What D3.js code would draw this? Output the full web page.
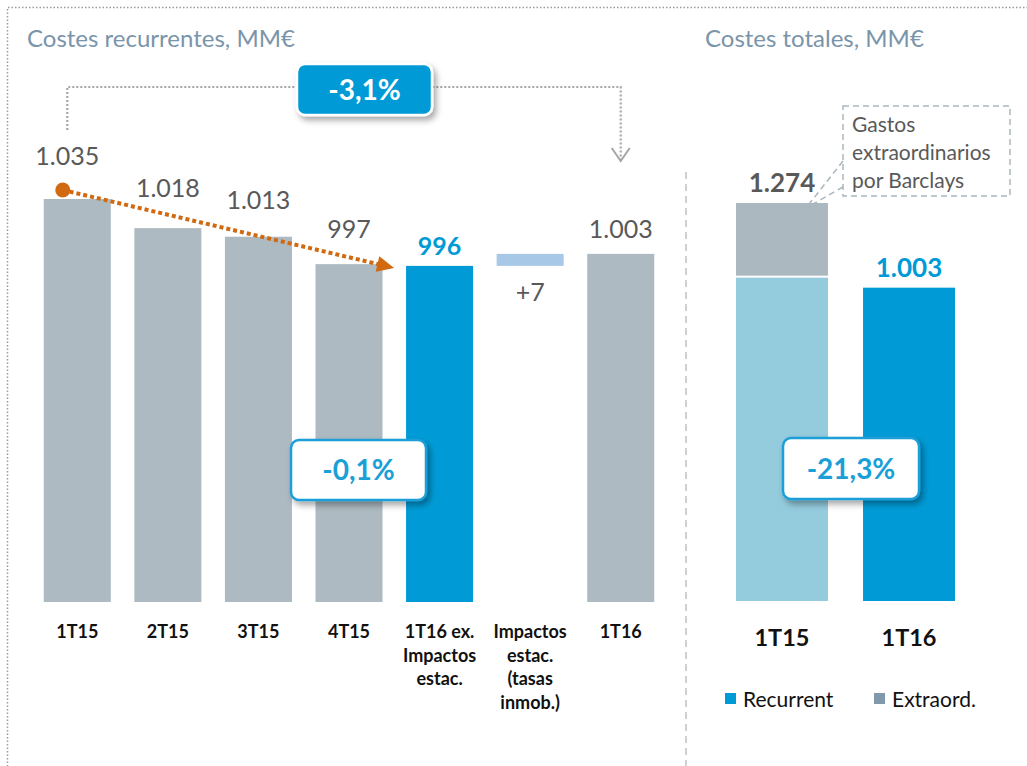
<!DOCTYPE html>
<html>
<head>
<meta charset="utf-8">
<script src="https://cdn.jsdelivr.net/npm/d3@7"></script>
<style>
  body { margin: 0; background: #fff; }
  text { font-family: Lato, "Open Sans", sans-serif; }
</style>
</head>
<body>
<div id="container"></div>
<script>
// left chart: recurrent costs per quarter
const quarters = ["1T15", "2T15", "3T15", "4T15", "1T16ex", "impact", "1T16"];
const quarterLabels = [["1T15"], ["2T15"], ["3T15"], ["4T15"],
  ["1T16 ex.", "Impactos", "estac."], ["Impactos", "estac.", "(tasas", "inmob.)"], ["1T16"]];
const barStart = [0, 0, 0, 0, 0, 996, 0];
const barEnd = [1035, 1018, 1013, 997, 996, 1003, 1003];
const barLabels = ["1.035", "1.018", "1.013", "997", "996", "+7", "1.003"];

// right chart: total costs
const totalCats = ["1T15", "1T16"];
const recurrent = [1035, 1003];
const extraord = [239, 0];
const totalLabels = ["1.274", "1.003"];
const legendItems = ["Recurrent", "Extraord."];

const width = 1027;
const height = 766;

const svg = d3.select("#container").append("svg")
    .attr("width", width)
    .attr("height", height);

const defs = svg.append("defs");
const shadow = defs.append("filter").attr("id", "shadow")
    .attr("x", "-20%").attr("y", "-20%").attr("width", "150%").attr("height", "160%");
shadow.append("feDropShadow")
    .attr("dx", 3).attr("dy", 4).attr("stdDeviation", 3)
    .attr("flood-color", "#000").attr("flood-opacity", 0.35);

// dotted outer frame and dashed separator
svg.append("path")
    .attr("d", "M7.5,770 V7.5 H1030")
    .attr("fill", "none").attr("stroke", "#9a9a9a")
    .attr("stroke-width", 1.5).attr("stroke-dasharray", "1.5,2");
svg.append("line")
    .attr("x1", 686).attr("x2", 686).attr("y1", 172).attr("y2", 766)
    .attr("stroke", "#d0d0d0").attr("stroke-width", 2).attr("stroke-dasharray", "7,5");

// titles
svg.append("text").attr("x", 27).attr("y", 47)
    .attr("font-size", 24).attr("fill", "#7a94aa").text("Costes recurrentes, MM€");
svg.append("text").attr("x", 705).attr("y", 47)
    .attr("font-size", 24).attr("fill", "#7a94aa").text("Costes totales, MM€");

// ---- left chart
const x = d3.scaleBand().domain(quarters).range([32, 666]).paddingInner(0.26).paddingOuter(0.13);
const y = d3.scaleLinear().domain([800, 1035]).range([602, 199]);

const barFill = ["#adbac1", "#adbac1", "#adbac1", "#adbac1", "#009bd6", "#a7c9e7", "#adbac1"];

svg.selectAll("rect.q")
  .data(quarters)
  .enter().append("rect")
    .attr("class", "q")
    .attr("x", d => x(d))
    .attr("width", x.bandwidth())
    .attr("y", (d, i) => y(barEnd[i]))
    .attr("height", (d, i) => (barStart[i] ? y(barStart[i]) : y(800)) - y(barEnd[i]))
    .attr("fill", (d, i) => barFill[i]);

const labelDy = [-34, -31, -28, -26, -11, 0, -16];
svg.selectAll("text.val")
  .data(quarters)
  .enter().append("text")
    .attr("class", "val")
    .attr("x", (d, i) => x(d) + x.bandwidth() / 2 - (i === 0 ? 10 : 0))
    .attr("y", (d, i) => i === 5 ? y(barStart[i]) + 35 : y(barEnd[i]) + labelDy[i])
    .attr("text-anchor", "middle")
    .attr("font-size", 25)
    .attr("font-weight", (d, i) => i === 4 ? "bold" : "normal")
    .attr("fill", (d, i) => i === 4 ? "#009bd6" : "#595959")
    .text((d, i) => barLabels[i]);

svg.selectAll("text.cat")
  .data(quarters)
  .enter().append("text")
    .attr("class", "cat")
    .attr("x", d => x(d) + x.bandwidth() / 2)
    .attr("y", 638)
    .attr("text-anchor", "middle")
    .attr("font-size", 18).attr("font-weight", "bold").attr("fill", "#111")
    .each(function(d, i) {
      d3.select(this).selectAll("tspan")
        .data(quarterLabels[i])
        .enter().append("tspan")
        .attr("x", x(d) + x.bandwidth() / 2)
        .attr("dy", (t, j) => j === 0 ? 0 : 23.5)
        .text(t => t);
    });

// gray dotted connector 1T15 -> 1T16
const cx0 = x("1T15") + x.bandwidth() / 2 - 10;
const cx1 = x("1T16") + x.bandwidth() / 2;
svg.append("path")
    .attr("d", `M${cx0},130 V87 H${cx1} V160`)
    .attr("fill", "none").attr("stroke", "#a6a6a6")
    .attr("stroke-width", 2.2).attr("stroke-dasharray", "2,2");
svg.append("path")
    .attr("d", `M${cx1 - 9},148 L${cx1},161 L${cx1 + 9},148`)
    .attr("fill", "none").attr("stroke", "#a6a6a6").attr("stroke-width", 2);

// orange dotted trend arrow
const ox0 = x("1T15") + 19, oy0 = y(1035) - 9;
const ox1 = x("1T16ex") - 12, oy1 = y(996) + 2;
const ang = Math.atan2(oy1 - oy0, ox1 - ox0);
svg.append("line")
    .attr("x1", ox0).attr("y1", oy0)
    .attr("x2", ox1 - 14 * Math.cos(ang)).attr("y2", oy1 - 14 * Math.sin(ang))
    .attr("stroke", "#d0690f").attr("stroke-width", 4).attr("stroke-dasharray", "4,3");
svg.append("circle").attr("cx", ox0).attr("cy", oy0).attr("r", 7.5).attr("fill", "#d0690f");
svg.append("path")
    .attr("transform", `translate(${ox1},${oy1}) rotate(${ang * 180 / Math.PI})`)
    .attr("d", "M0,0 L-17,-8 L-17,8 Z")
    .attr("fill", "#d0690f");

// callout boxes
function badge(bx, by, w, h, label, filled) {
  const g = svg.append("g");
  g.append("rect")
      .attr("x", bx).attr("y", by).attr("width", w).attr("height", h)
      .attr("rx", 8)
      .attr("fill", filled ? "#009bd6" : "#fff")
      .attr("stroke", filled ? "#fff" : "#1a9fd8")
      .attr("stroke-width", 2.5)
      .attr("filter", "url(#shadow)");
  g.append("text")
      .attr("x", bx + w / 2).attr("y", by + h / 2 + 10)
      .attr("text-anchor", "middle")
      .attr("font-size", 28).attr("font-weight", "bold")
      .attr("fill", filled ? "#fff" : "#1a9fd8")
      .text(label);
}
badge(297, 64, 135, 51, "-3,1%", true);
badge(291, 440, 135, 60, "-0,1%", false);

// ---- right chart
const x2 = d3.scaleBand().domain(totalCats).range([736, 955]).paddingInner(0.276).paddingOuter(0);
const y2 = d3.scaleLinear().domain([0, 1274]).range([601, 203]);
const recFill = ["#94cbdd", "#009bd6"];

svg.selectAll("rect.rec")
  .data(totalCats)
  .enter().append("rect")
    .attr("class", "rec")
    .attr("x", d => x2(d))
    .attr("width", x2.bandwidth())
    .attr("y", (d, i) => y2(recurrent[i]))
    .attr("height", (d, i) => y2(0) - y2(recurrent[i]))
    .attr("fill", (d, i) => recFill[i]);

svg.selectAll("rect.ext")
  .data(totalCats.filter((d, i) => extraord[i] > 0))
  .enter().append("rect")
    .attr("class", "ext")
    .attr("x", d => x2(d))
    .attr("width", x2.bandwidth())
    .attr("y", d => y2(recurrent[totalCats.indexOf(d)] + extraord[totalCats.indexOf(d)]))
    .attr("height", d => y2(recurrent[totalCats.indexOf(d)]) - y2(recurrent[totalCats.indexOf(d)] + extraord[totalCats.indexOf(d)]) - 2)
    .attr("fill", "#abb8c0");

svg.selectAll("text.tot")
  .data(totalCats)
  .enter().append("text")
    .attr("class", "tot")
    .attr("x", d => x2(d) + x2.bandwidth() / 2)
    .attr("y", (d, i) => y2(recurrent[i] + extraord[i]) - 11)
    .attr("text-anchor", "middle")
    .attr("font-size", 26).attr("font-weight", "bold")
    .attr("fill", (d, i) => i === 0 ? "#595959" : "#009bd6")
    .text((d, i) => totalLabels[i]);

svg.selectAll("text.tcat")
  .data(totalCats)
  .enter().append("text")
    .attr("class", "tcat")
    .attr("x", d => x2(d) + x2.bandwidth() / 2)
    .attr("y", 646)
    .attr("text-anchor", "middle")
    .attr("font-size", 23.5).attr("font-weight", "bold").attr("fill", "#111")
    .text(d => d);

badge(783, 438, 136, 61, "-21,3%", false);

// annotation box
svg.append("rect")
    .attr("x", 843).attr("y", 106).attr("width", 167).attr("height", 90)
    .attr("fill", "#fff").attr("stroke", "#aab6bd")
    .attr("stroke-width", 1.5).attr("stroke-dasharray", "6,4");
svg.append("path")
    .attr("d", "M843,161 L806,208 M843,187 L806,208")
    .attr("fill", "none").attr("stroke", "#aab6bd")
    .attr("stroke-width", 1.5).attr("stroke-dasharray", "6,4");
svg.append("text")
    .attr("x", 852).attr("y", 132)
    .attr("font-size", 21).attr("fill", "#595959")
    .selectAll("tspan")
    .data(["Gastos", "extraordinarios", "por Barclays"])
    .enter().append("tspan")
      .attr("x", 852)
      .attr("dy", (d, i) => i === 0 ? 0 : 28)
      .text(d => d);

// legend
const legendFill = ["#009bd6", "#8299ab"];
const legend = svg.selectAll("g.leg")
  .data(legendItems)
  .enter().append("g")
    .attr("class", "leg")
    .attr("transform", (d, i) => `translate(${725 + i * 149},693)`);
legend.append("rect").attr("width", 11).attr("height", 11).attr("fill", (d, i) => legendFill[i]);
legend.append("text").attr("x", 18).attr("y", 14)
    .attr("font-size", 21).attr("fill", "#111").text(d => d);
</script>
</body>
</html>
